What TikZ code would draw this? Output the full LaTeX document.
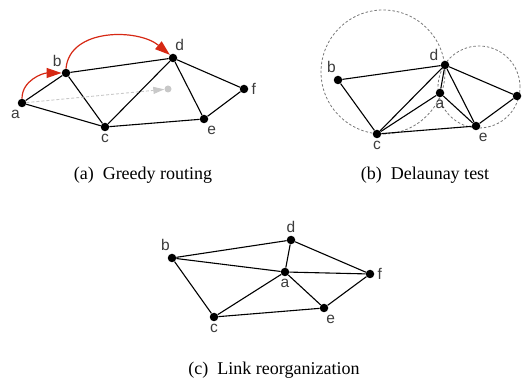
\documentclass[tikz,border=0pt]{standalone}
\usepackage{fontspec}
\setmainfont{Liberation Serif}
\setsansfont{Liberation Sans}
\usetikzlibrary{arrows.meta}
\definecolor{arrowred}{RGB}{214,40,20}
\definecolor{ghostgrey}{RGB}{200,200,200}
\definecolor{ringgrey}{RGB}{120,120,120}
\definecolor{lblgrey}{RGB}{60,60,60}
\tikzset{
    dot/.style={circle, fill=black, inner sep=0pt, minimum size=8.5pt},
    lbl/.style={font=\sffamily\fontsize{15.5}{15.5}\selectfont, text=lblgrey,
                inner sep=1pt},
    captext/.style={font=\fontsize{18}{18}\selectfont},
    link/.style={draw, line width=1.1pt, black},
    dashring/.style={draw, ringgrey, line width=0.8pt,
                     dash pattern=on 2.5pt off 2pt},
}
\begin{document}
\begin{tikzpicture}[
    x=1pt, y=1pt,
    label distance=2pt,
    redarr/.style={-{Triangle[length=15pt,width=10pt]}, line width=1.2pt, arrowred},
    ghostarr/.style={-{Triangle[length=11pt,width=7pt]}, line width=0.9pt,
                     ghostgrey, dash pattern=on 3pt off 2pt}
]
    \useasboundingbox (0,0) rectangle (526,382);

    % (a) greedy routing
    \node[dot, label={[lbl]-100:a}] (ga) at (22,279) {};
    \node[dot, label={[lbl]120:b}] (gb) at (66,309) {};
    \node[dot, label={[lbl]-90:c}] (gc) at (105,255) {};
    \node[dot, label={[lbl]80:d}] (gd) at (173,324) {};
    \node[dot, label={[lbl]-70:e}] (ge) at (204,263) {};
    \node[dot, label={[lbl]0:f}] (gf) at (244,293) {};
    \node[dot, fill=ghostgrey, minimum size=7pt] (gt) at (168,293) {};
    \foreach \u/\v in {ga/gb, ga/gc, gb/gc, gb/gd, gc/gd, gc/ge, gd/ge, gd/gf, ge/gf}
        \draw[link] (\u) -- (\v);
    \draw[ghostarr] (ga) -- (gt);
    \draw[redarr] (ga.north) to[out=90, in=180] (gb.west);
    \draw[redarr] (gb.north) to[out=85, in=140] (gd.north west);
    \node[captext] (capa) at (143,207) {(a)\enskip Greedy routing};

    % (b) delaunay test
    \draw[dashring] (383,310) circle[radius=62];
    \draw[dashring] (479,295) circle[radius=41];
    \node[dot, label={[lbl]100:b}] (db) at (338,302) {};
    \node[dot, label={[lbl]150:d}] (dd) at (445,317) {};
    \node[dot, label={[lbl]-90:a}] (da) at (440,289) {};
    \node[dot] (df) at (517,286) {};
    \node[dot, label={[lbl]-75:e}] (de) at (476,256) {};
    \node[dot, label={[lbl]-90:c}] (dc) at (377,248) {};
    \foreach \u/\v in {db/dd, db/dc, dc/dd, dc/da, dc/de, dd/da, dd/de, dd/df, da/de, de/df}
        \draw[link] (\u) -- (\v);
    \node[captext] (capb) at (425,207) {(b)\enskip Delaunay test};

    % (c) link reorganization
    \node[dot, label={[lbl]100:b}] (lb) at (172,124) {};
    \node[dot, label={[lbl]90:d}] (ld) at (291,142) {};
    \node[dot, label={[lbl]-90:a}] (la) at (285,110) {};
    \node[dot, label={[lbl]0:f}] (lf) at (370,108) {};
    \node[dot, label={[lbl]-80:e}] (le) at (324,74) {};
    \node[dot, label={[lbl]-90:c}] (lc) at (214,65) {};
    \foreach \u/\v in {lb/ld, lb/la, lb/lc, ld/la, ld/lf, la/lf, la/lc, la/le, lc/le, le/lf}
        \draw[link] (\u) -- (\v);
    \node[captext] (capc) at (274,12) {(c)\enskip Link reorganization};
\end{tikzpicture}
\end{document}
